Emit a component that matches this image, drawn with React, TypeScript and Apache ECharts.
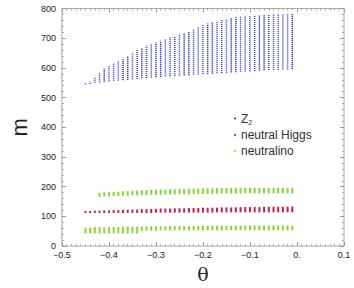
import React, { useEffect, useRef } from "react";
import * as echarts from "echarts";

const theta = [
  -0.45, -0.44, -0.43, -0.42, -0.41, -0.4, -0.39, -0.38, -0.37, -0.36,
  -0.35, -0.34, -0.33, -0.32, -0.31, -0.3, -0.29, -0.28, -0.27, -0.26,
  -0.25, -0.24, -0.23, -0.22, -0.21, -0.2, -0.19, -0.18, -0.17, -0.16,
  -0.15, -0.14, -0.13, -0.12, -0.11, -0.1, -0.09, -0.08, -0.07, -0.06,
  -0.05, -0.04, -0.03, -0.02, -0.01,
];

const z2Low = [
  548, 550, 553, 555, 557, 558, 560, 561, 562, 563,
  565, 566, 568, 569, 571, 572, 573, 574, 575, 576,
  577, 578, 579, 580, 581, 582, 583, 584, 585, 586,
  587, 588, 589, 590, 591, 592, 593, 594, 595, 596,
  597, 597, 598, 598, 599,
];
const z2High = [
  548, 551, 566, 580, 594, 604, 614, 620, 626, 636,
  648, 656, 664, 672, 678, 682, 688, 693, 699, 702,
  708, 714, 720, 727, 734, 740, 746, 750, 754, 758,
  762, 765, 767, 770, 772, 773, 774, 775, 775, 777,
  780, 780, 780, 781, 781,
];

const higgsLow = [
  115, 115, 115, 115, 115, 115, 115, 115, 115, 115,
  115, 115, 115, 115, 115, 116, 116, 116, 116, 116,
  116, 116, 116, 116, 116, 116, 116, 116, 117, 117,
  117, 117, 117, 117, 117, 117, 117, 117, 117, 117,
  117, 117, 117, 117, 117,
];
const higgsHigh = [
  115, 115, 116, 116, 117, 117, 118, 118, 119, 119,
  120, 120, 121, 121, 122, 122, 123, 123, 123, 124,
  124, 124, 125, 125, 125, 126, 126, 126, 126, 127,
  127, 127, 127, 128, 128, 128, 128, 128, 129, 129,
  129, 129, 129, 130, 130,
];

// neutralino, upper band (starts at theta = -0.42)
const chiUpperLow = [
  null, null, null, 169, 170, 171, 172, 172, 173, 173,
  174, 174, 175, 175, 176, 176, 176, 177, 177, 177,
  178, 178, 178, 178, 179, 179, 179, 179, 180, 180,
  180, 180, 180, 180, 181, 181, 181, 181, 181, 181,
  181, 181, 181, 181, 181,
];
const chiUpperHigh = [
  null, null, null, 176, 177, 178, 179, 180, 181, 182,
  183, 184, 185, 185, 186, 186, 187, 187, 188, 188,
  189, 189, 190, 190, 190, 191, 191, 191, 192, 192,
  192, 192, 193, 193, 193, 193, 193, 193, 193, 193,
  193, 193, 193, 193, 193,
];

// neutralino, lower band
const chiLowerLow = [
  55, 55, 55, 55, 55, 55, 55, 55, 55, 55,
  55, 55, 55, 55, 55, 55, 56, 56, 56, 56,
  56, 56, 56, 56, 56, 56, 56, 56, 56, 56,
  57, 57, 57, 57, 57, 57, 57, 57, 57, 57,
  57, 57, 57, 57, 57,
];
const chiLowerHigh = [
  59, 59, 60, 60, 60, 61, 61, 61, 61, 62,
  62, 62, 62, 63, 63, 63, 63, 63, 64, 64,
  64, 64, 64, 64, 65, 65, 65, 65, 65, 65,
  65, 65, 66, 66, 66, 66, 66, 66, 66, 66,
  66, 66, 66, 66, 66,
];
// neutralino, lowest short row (theta -0.45 .. -0.34)
const chiLowestLow = [46, 46, 46, 46, 46, 46, 46, 46, 46, 46, 46, 46];
const chiLowestHigh = [48, 48, 48, 48, 48, 48, 48, 48, 48, 48, 48, 48];

const xTicks = [-0.5, -0.4, -0.3, -0.2, -0.1, 0, 0.1];
const yTicks = [0, 100, 200, 300, 400, 500, 600, 700, 800];

const BLUE = "#3434c8";
const RED = "#c8204c";
const GREEN = "#86d82a";

function rows(lo: (number | null)[], hi: (number | null)[]) {
  const out: number[][] = [];
  for (let i = 0; i < lo.length; i++) {
    const a = lo[i];
    const b = hi[i];
    if (a == null || b == null) continue;
    out.push([theta[i], a, b]);
  }
  return out;
}

function makeRender(color: string, width: number, dash: number[] | null) {
  return (params: any, api: any) => {
    const x = api.value(0);
    const lo = api.value(1);
    const hi = api.value(2);
    const p1 = api.coord([x, lo]);
    const p2 = api.coord([x, hi]);
    return {
      type: "line",
      shape: { x1: p1[0], y1: p1[1] + 1, x2: p2[0], y2: p2[1] - 1 },
      style: {
        stroke: color,
        lineWidth: width,
        lineDash: dash || undefined,
      },
      silent: true,
    };
  };
}

function fmtX(v: number) {
  if (Math.abs(v) < 1e-9) return "0.";
  return (v < 0 ? "\u2212" : "") + Math.abs(v).toFixed(1);
}

export default function App() {
  const ref = useRef<HTMLDivElement>(null);
  useEffect(() => {
    if (!ref.current) return;
    const chart = echarts.init(ref.current, undefined, { renderer: "svg" });
    const tickLabel = {
      fontFamily: "Liberation Sans, Arial, sans-serif",
      fontSize: 9,
      color: "#222",
    };
    const xBase = {
      type: "value",
      min: xTicks[0],
      max: xTicks[xTicks.length - 1],
      interval: 0.1,
      splitLine: { show: false },
      axisLine: { show: false, onZero: false },
      axisTick: { show: true, inside: true, length: 4, lineStyle: { color: "#999" } },
      minorTick: { show: true, splitNumber: 10, length: 2, lineStyle: { color: "#aaa" } },
    };
    const yBase = {
      type: "value",
      min: yTicks[0],
      max: yTicks[yTicks.length - 1],
      interval: 100,
      splitLine: { show: false },
      axisLine: { show: false, onZero: false },
      axisTick: { show: true, inside: true, length: 4, lineStyle: { color: "#999" } },
      minorTick: { show: true, splitNumber: 5, length: 2, lineStyle: { color: "#aaa" } },
    };
    const legendFont = "Liberation Sans, Arial, sans-serif";
    chart.setOption({
      animation: false,
      backgroundColor: "#fff",
      grid: {
        left: 47,
        right: 10,
        top: 8.5,
        bottom: 31.5,
        show: true,
        borderColor: "#aaa",
        borderWidth: 1,
      },
      legend: {
        orient: "vertical",
        left: 229,
        top: 107,
        itemWidth: 2,
        itemHeight: 2,
        itemGap: 3,
        icon: "circle",
        data: ["Z2", "neutral Higgs", "neutralino"],
        formatter: (name: string) => (name === "Z2" ? "{a|Z}{s|2}" : name),
        textStyle: {
          fontFamily: legendFont,
          fontSize: 12,
          color: "#333",
          lineHeight: 13,
          rich: {
            a: { fontSize: 12, color: "#333", fontFamily: legendFont },
            s: { fontSize: 7, color: "#333", padding: [7, 0, 0, 0], fontFamily: legendFont },
          },
        },
      },
      xAxis: [
        {
          ...xBase,
          position: "bottom",
          name: "\u03b8",
          nameLocation: "middle",
          nameGap: 7,
          nameTextStyle: { fontFamily: "DejaVu Serif, serif", fontSize: 19, color: "#222", verticalAlign: "top" },
          axisLabel: { ...tickLabel, margin: 4, formatter: fmtX },
        },
        { ...xBase, position: "top", axisLabel: { show: false } },
      ],
      yAxis: [
        {
          ...yBase,
          position: "left",
          name: "m",
          nameLocation: "middle",
          nameGap: 29,
          nameRotate: 90,
          nameTextStyle: { fontFamily: "Liberation Sans, Arial, sans-serif", fontSize: 22, color: "#222" },
          axisLabel: { ...tickLabel, margin: 6 },
        },
        { ...yBase, position: "right", axisLabel: { show: false } },
      ],
      series: [
        {
          type: "custom",
          name: "Z2",
          itemStyle: { color: BLUE },
          renderItem: makeRender(BLUE, 1.5, [1.1, 0.9]),
          data: rows(z2Low, z2High),
          encode: { x: 0, y: [1, 2] },
        },
        {
          type: "custom",
          name: "neutral Higgs",
          itemStyle: { color: RED },
          renderItem: makeRender(RED, 2, null),
          data: rows(higgsLow, higgsHigh),
          encode: { x: 0, y: [1, 2] },
        },
        {
          type: "custom",
          name: "neutralino",
          itemStyle: { color: GREEN },
          renderItem: makeRender(GREEN, 2, null),
          data: rows(chiUpperLow, chiUpperHigh),
          encode: { x: 0, y: [1, 2] },
        },
        {
          type: "custom",
          name: "neutralino",
          itemStyle: { color: GREEN },
          renderItem: makeRender(GREEN, 2, null),
          data: rows(chiLowerLow, chiLowerHigh),
          encode: { x: 0, y: [1, 2] },
        },
        {
          type: "custom",
          name: "neutralino",
          itemStyle: { color: GREEN },
          renderItem: makeRender(GREEN, 2, null),
          data: rows(chiLowestLow, chiLowestHigh),
          encode: { x: 0, y: [1, 2] },
        },
      ],
    });
    return () => chart.dispose();
  }, []);
  return <div ref={ref} style={{ width: 354, height: 288, position: "absolute", left: 0, top: 0 }} />;
}
